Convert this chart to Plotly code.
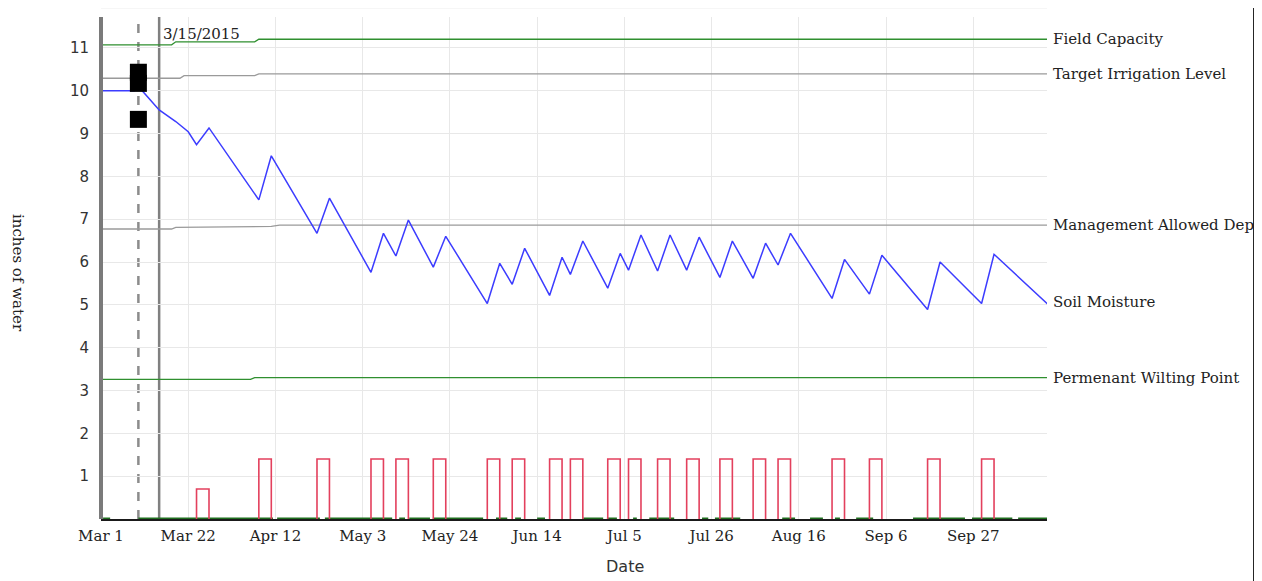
import plotly.graph_objects as go
import pandas as pd

# ---------------- data ----------------
sm_dates = ["2015-03-01", "2015-03-09", "2015-03-10", "2015-03-15", "2015-03-19", "2015-03-22", "2015-03-24", "2015-03-27",
            "2015-04-08", "2015-04-11", "2015-04-22", "2015-04-25", "2015-05-05", "2015-05-08", "2015-05-11", "2015-05-14",
            "2015-05-20", "2015-05-23", "2015-06-02", "2015-06-05", "2015-06-08", "2015-06-11", "2015-06-17", "2015-06-20",
            "2015-06-22", "2015-06-25", "2015-07-01", "2015-07-04", "2015-07-06", "2015-07-09", "2015-07-13", "2015-07-16",
            "2015-07-20", "2015-07-23", "2015-07-28", "2015-07-31", "2015-08-05", "2015-08-08", "2015-08-11", "2015-08-14",
            "2015-08-24", "2015-08-27", "2015-09-02", "2015-09-05", "2015-09-16", "2015-09-19", "2015-09-29", "2015-10-02",
            "2015-10-15"]
sm_values = [10.0, 10.0, 10.1, 9.55, 9.28, 9.04, 8.74, 9.13,
             7.45, 8.48, 6.67, 7.49, 5.76, 6.67, 6.14, 6.98,
             5.88, 6.60, 5.03, 5.97, 5.48, 6.32, 5.22, 6.11,
             5.71, 6.49, 5.39, 6.20, 5.81, 6.63, 5.79, 6.63,
             5.81, 6.58, 5.64, 6.49, 5.62, 6.44, 5.93, 6.67,
             5.15, 6.06, 5.25, 6.16, 4.89, 6.00, 5.03, 6.18,
             5.01]

fc_dates = ["2015-03-01", "2015-03-18", "2015-03-19", "2015-04-07", "2015-04-08", "2015-10-15"]
fc_values = [11.07, 11.07, 11.14, 11.14, 11.20, 11.20]

til_dates = ["2015-03-01", "2015-03-20", "2015-03-21", "2015-04-07", "2015-04-08", "2015-10-15"]
til_values = [10.29, 10.29, 10.35, 10.35, 10.39, 10.39]

mad_dates = ["2015-03-01", "2015-03-18", "2015-03-19", "2015-04-11", "2015-04-13", "2015-10-15"]
mad_values = [6.77, 6.77, 6.81, 6.83, 6.86, 6.86]

pwp_dates = ["2015-03-01", "2015-04-06", "2015-04-07", "2015-10-15"]
pwp_values = [3.26, 3.26, 3.30, 3.30]

irr_start = ["2015-03-24", "2015-04-08", "2015-04-22", "2015-05-05", "2015-05-11", "2015-05-20", "2015-06-02",
             "2015-06-08", "2015-06-17", "2015-06-22", "2015-07-01", "2015-07-06", "2015-07-13", "2015-07-20",
             "2015-07-28", "2015-08-05", "2015-08-11", "2015-08-24", "2015-09-02", "2015-09-16", "2015-09-29"]
irr_end = ["2015-03-27", "2015-04-11", "2015-04-25", "2015-05-08", "2015-05-14", "2015-05-23", "2015-06-05",
           "2015-06-11", "2015-06-20", "2015-06-25", "2015-07-04", "2015-07-09", "2015-07-16", "2015-07-23",
           "2015-07-31", "2015-08-08", "2015-08-14", "2015-08-27", "2015-09-05", "2015-09-19", "2015-10-02"]
irr_amount = [0.7, 1.4, 1.4, 1.4, 1.4, 1.4, 1.4,
              1.4, 1.4, 1.4, 1.4, 1.4, 1.4, 1.4,
              1.4, 1.4, 1.4, 1.4, 1.4, 1.4, 1.4]

# green baseline segments (days after Mar 1)
base_start_day = [0.5, 9, 42.4, 53.9, 71.8, 74.2, 79.9, 95.1, 99.7, 105, 116.1, 121.8, 128.1, 132,
                  144.7, 147.8, 164, 170.7, 176.7, 181.8, 195.5, 209.7, 220.8]
base_end_day = [2.2, 41.4, 52.7, 70.1, 73.2, 79.2, 92, 97.8, 101.1, 106.9, 120.9, 124.2, 129, 138,
                146.2, 153.9, 167.1, 173.8, 177.9, 185.9, 208, 219.4, 228]

reading_dates = ["2015-03-10", "2015-03-10", "2015-03-10"]
reading_values = [10.43, 10.17, 9.33]

marker_dashed_date = "2015-03-10"
marker_current_date = "2015-03-15"
current_label = "3/15/2015"

y_ticks = [1, 2, 3, 4, 5, 6, 7, 8, 9, 10, 11]
x_start = "2015-03-01"
x_end = "2015-10-14 18:00"
y_top = 11.72

SERIF = "DejaVu Serif"
SANS = "DejaVu Sans"

# ---------------- figure ----------------
fig = go.Figure()

t0 = pd.Timestamp(x_start)

# green baseline segments
bx, by = [], []
for s, e in zip(base_start_day, base_end_day):
    bx += [t0 + pd.Timedelta(days=s), t0 + pd.Timedelta(days=e), None]
    by += [0, 0, None]
fig.add_trace(go.Scatter(x=bx, y=by, mode="lines", line=dict(color="#1f6e1f", width=3),
                         hoverinfo="skip", showlegend=False))

# irrigation bars (outlined steps)
ix, iy = [], []
for s, e, a in zip(irr_start, irr_end, irr_amount):
    ix += [s, s, e, e, None]
    iy += [0, a, a, 0, None]
fig.add_trace(go.Scatter(x=ix, y=iy, mode="lines", line=dict(color="#e3405d", width=1.6),
                         name="Irrigation", showlegend=False))

# reference lines
fig.add_trace(go.Scatter(x=fc_dates, y=fc_values, mode="lines", line=dict(color="#2f8f2f", width=1.3),
                         name="Field Capacity", showlegend=False))
fig.add_trace(go.Scatter(x=til_dates, y=til_values, mode="lines", line=dict(color="#9a9a9a", width=1.3),
                         name="Target Irrigation Level", showlegend=False))
fig.add_trace(go.Scatter(x=mad_dates, y=mad_values, mode="lines", line=dict(color="#9a9a9a", width=1.3),
                         name="Management Allowed Depletion", showlegend=False))
fig.add_trace(go.Scatter(x=pwp_dates, y=pwp_values, mode="lines", line=dict(color="#2f8f2f", width=1.3),
                         name="Permenant Wilting Point", showlegend=False))

# soil moisture
fig.add_trace(go.Scatter(x=sm_dates, y=sm_values, mode="lines", line=dict(color="#3c3cff", width=1.5),
                         name="Soil Moisture", showlegend=False))

# readings
fig.add_trace(go.Scatter(x=reading_dates, y=reading_values, mode="markers",
                         marker=dict(symbol="square", size=17, color="#000000", line=dict(width=0)),
                         name="Readings", showlegend=False))

# vertical marker lines
shapes = [
    dict(type="line", xref="paper", yref="paper", x0=0, x1=0, y0=0, y1=1,
         line=dict(color="#7a7a7a", width=4), layer="above"),
    dict(type="line", xref="x", yref="paper", x0=marker_dashed_date, x1=marker_dashed_date, y0=0, y1=1,
         line=dict(color="#8c8c8c", width=2.5, dash="dash"), layer="below"),
    dict(type="line", xref="x", yref="paper", x0=marker_current_date, x1=marker_current_date, y0=0, y1=1,
         line=dict(color="#808080", width=2.5), layer="below"),
    dict(type="line", xref="paper", yref="paper", x0=0, x1=1, y0=1.018, y1=1.018,
         line=dict(color="#ececec", width=1)),
    dict(type="line", xref="paper", yref="paper", x0=1.2195, x1=1.2195, y0=-0.14, y1=1.018,
         line=dict(color="#000000", width=3), layer="above"),
]

# right-side labels at end of lines
label_font = dict(family=SERIF, size=15, color="#222222")
right_labels = [
    ("Field Capacity", fc_values[-1]),
    ("Target Irrigation Level", til_values[-1]),
    ("Management Allowed Depletion", mad_values[-1]),
    ("Soil Moisture", sm_values[-1] + 0.05),
    ("Permenant Wilting Point", pwp_values[-1]),
]
annotations = []
for txt, yv in right_labels:
    annotations.append(dict(text=txt, xref="paper", yref="y", x=1.004, y=yv, xanchor="left",
                            yanchor="middle", showarrow=False, font=label_font))

annotations.append(dict(text=current_label, xref="x", yref="y", x=marker_current_date, y=11.33,
                        xanchor="left", yanchor="middle", xshift=2, showarrow=False,
                        font=dict(family=SERIF, size=15, color="#222222")))
annotations.append(dict(text="inches of water", xref="paper", yref="paper", x=-0.0877, y=0.49,
                        textangle=90, showarrow=False, xanchor="center", yanchor="middle",
                        font=dict(family=SERIF, size=15, color="#222222")))
annotations.append(dict(text="Date", xref="paper", yref="paper", x=0.554, y=-0.0956,
                        showarrow=False, xanchor="center", yanchor="middle",
                        font=dict(family=SANS, size=16, color="#333333")))

# page body has an 8px default margin: offset the plot area accordingly
fig.update_layout(
    width=1262, height=581,
    margin=dict(l=93, r=223, t=9, b=70),
    paper_bgcolor="white", plot_bgcolor="white",
    showlegend=False,
    shapes=shapes,
    annotations=annotations,
    xaxis=dict(type="date", range=[x_start, x_end], tick0=x_start, dtick=21 * 86400000,
               tickformat="%b %-d", showgrid=True, gridcolor="#e8e8e8", gridwidth=1,
               showline=True, linecolor="#1a1a1a", linewidth=2, ticks="",
               tickfont=dict(family=SERIF, size=15, color="#222222"), zeroline=False,
               ticklabelstandoff=2),
    yaxis=dict(range=[0, y_top], tickvals=y_ticks, showgrid=True, gridcolor="#e8e8e8", gridwidth=1,
               zeroline=False, showline=False, ticks="",
               tickfont=dict(family=SANS, size=15, color="#333333"), ticklabelstandoff=11),
)

fig.write_html("out.html")
